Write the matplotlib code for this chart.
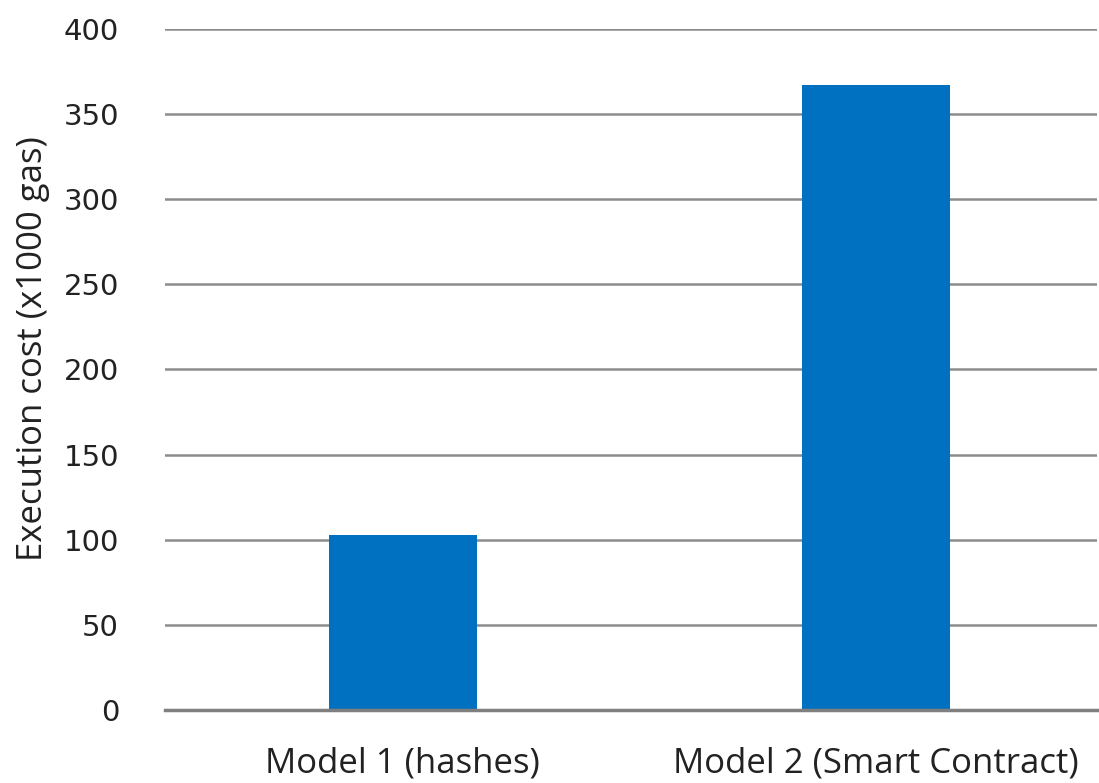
import matplotlib.pyplot as plt

categories = ["Model 1 (hashes)", "Model 2 (Smart Contract)"]
values = [103, 367]
yticks = [0, 50, 100, 150, 200, 250, 300, 350, 400]

fig = plt.figure(figsize=(10.99, 7.83), dpi=100)
ax = fig.add_axes([0.150, 0.0932, 0.848, 0.870])

x = list(range(len(categories)))
ax.bar(x, values, width=0.313, color="#0070C0", zorder=3)

ax.set_ylim(0, 400)
ax.set_xlim(-0.503, 1.467)
ax.set_yticks(yticks)
ax.set_yticklabels([str(t) for t in yticks], fontsize=21, family="DejaVu Sans", color="#222222")
ax.set_xticks(x)
ax.set_xticklabels(categories, fontsize=25, family="Open Sans", color="#222222")
ax.tick_params(axis="y", length=0, pad=33)
ax.tick_params(axis="x", length=0, pad=26)

ax.grid(axis="y", color="#8c8c8c", linewidth=1.8, zorder=0)
for s in ["top", "right", "left"]:
    ax.spines[s].set_visible(False)
ax.spines["bottom"].set_color("#7f7f7f")
ax.spines["bottom"].set_linewidth(2.5)
ax.spines["bottom"].set_zorder(4)

ax.set_ylabel("Execution cost (x1000 gas)", fontsize=25, family="Open Sans", color="#222222",
              labelpad=10, y=0.53)

fig.savefig("out.png", dpi=100)
